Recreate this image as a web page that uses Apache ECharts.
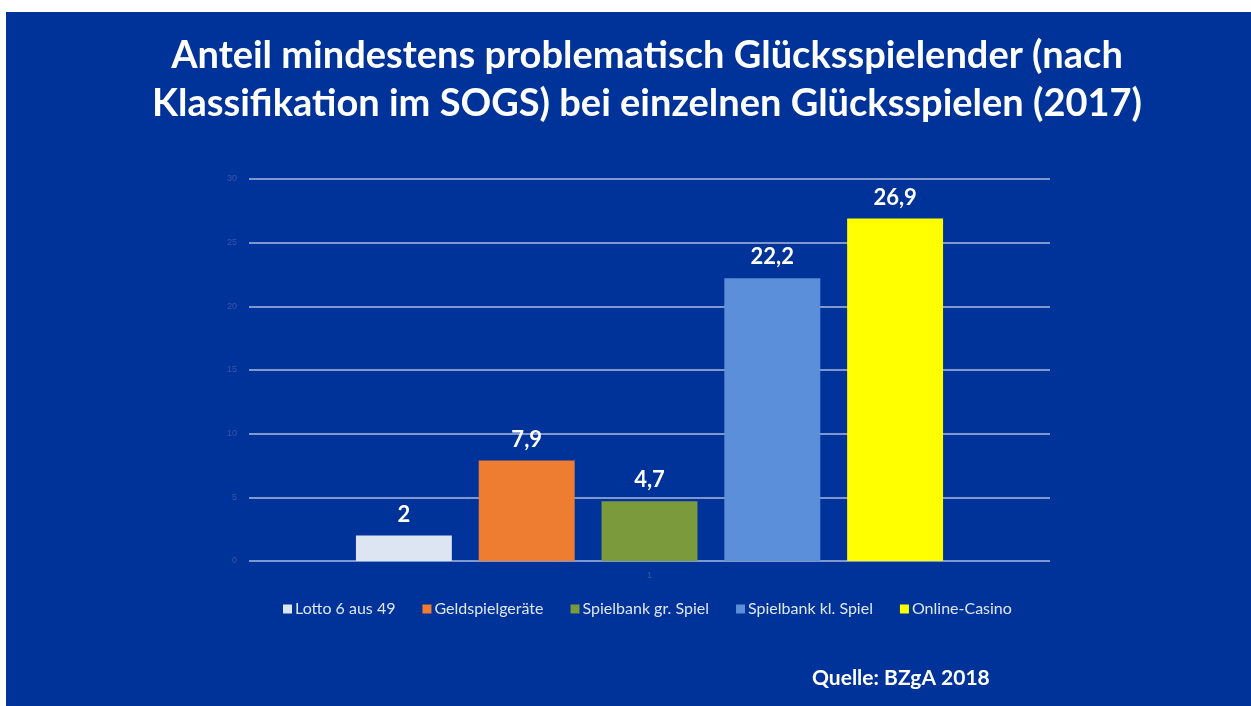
<!DOCTYPE html>
<html>
<head>
<meta charset="utf-8">
<script src="https://cdn.jsdelivr.net/npm/echarts@6/dist/echarts.min.js"></script>
<style>
  html, body { margin: 0; padding: 0; background: #fff; }
  #main { position: absolute; left: 6px; top: 12px; width: 1245px; height: 694px; background: #003399; }
</style>
</head>
<body>
<div id="main"></div>
<script>
// data
var categories = ['1'];
var seriesNames = ['Lotto 6 aus 49', 'Geldspielgeräte', 'Spielbank gr. Spiel', 'Spielbank kl. Spiel', 'Online-Casino'];
var seriesValues = [2, 7.9, 4.7, 22.2, 26.9];
var seriesColors = ['#dde5f3', '#ee7d31', '#7a9a3c', '#5b8fd9', '#ffff00'];
var yTicks = [0, 5, 10, 15, 20, 25, 30];

var myChart = echarts.init(document.getElementById('main'));

var chartData = [];
for (var i = 0; i < seriesNames.length; i++) {
  chartData.push({
    name: seriesNames[i],
    type: 'bar',
    data: [seriesValues[i]],
    barGap: '28%',
    barCategoryGap: '26.7%',
    itemStyle: { color: seriesColors[i] },
    label: {
      show: true,
      position: 'top',
      distance: 10,
      color: '#ffffff',
      fontFamily: 'Lato',
      fontWeight: 'bold',
      fontSize: 22,
      formatter: function(p) {
        return String(p.value).replace('.', ',');
      }
    }
  });
}

var option = {
  animation: false,
  title: {
    text: 'Anteil mindestens problematisch Glücksspielender (nach\nKlassifikation im SOGS) bei einzelnen Glücksspielen (2017)',
    left: 636,
    top: 15,
    textAlign: 'center',
    textStyle: {
      color: '#ffffff',
      fontFamily: 'Lato',
      fontWeight: 'bold',
      fontSize: 38,
      lineHeight: 48
    }
  },
  grid: {
    left: 243,
    right: 201,
    top: 167,
    bottom: 145
  },
  legend: {
    data: seriesNames,
    left: 272,
    top: 584,
    itemWidth: 9,
    itemHeight: 9,
    itemGap: 27,
    icon: 'rect',
    textStyle: {
      color: '#dfe6f3',
      fontFamily: 'Lato',
      fontSize: 16,
      padding: [0, 0, 0, -2]
    }
  },
  xAxis: [{
    type: 'category',
    data: categories,
    axisLine: { show: false },
    axisTick: { show: false },
    axisLabel: { color: '#3a55a8', fontSize: 9, margin: 10 }
  }],
  yAxis: [{
    type: 'value',
    min: 0,
    max: 30,
    interval: 5,
    axisLine: { show: false },
    axisTick: { show: false },
    axisLabel: {
      color: '#3a55a8',
      fontSize: 9,
      margin: 12,
      formatter: function(v) { return yTicks.indexOf(v) >= 0 ? v : ''; }
    },
    splitLine: { lineStyle: { color: '#7f97cf', width: 2 } }
  }],
  graphic: [{
    type: 'text',
    left: 806,
    top: 656,
    style: {
      text: 'Quelle: BZgA 2018',
      fill: '#ffffff',
      font: 'bold 21px Lato'
    }
  }],
  series: chartData
};
myChart.setOption(option);
</script>
</body>
</html>
